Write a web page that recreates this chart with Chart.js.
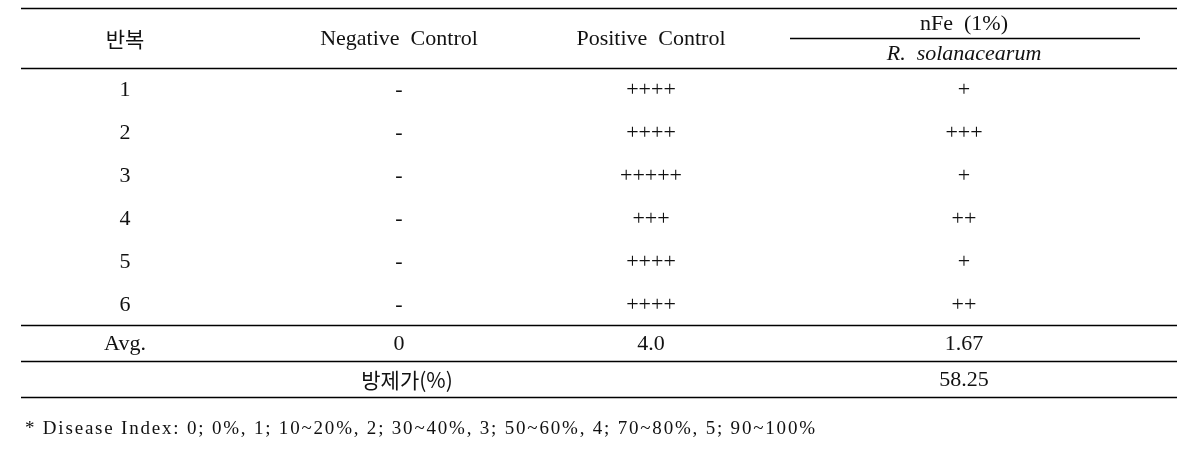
<!DOCTYPE html>
<html><head><meta charset="utf-8">
<script src="https://cdn.jsdelivr.net/npm/chart.js@4.4.1/dist/chart.umd.min.js"></script>
<style>html,body{margin:0;padding:0;background:#fff;}canvas{display:block;}</style>
</head><body>
<canvas id="c" width="1180" height="452"></canvas>
<script>
// ---- data ----
const headers = ['반복', 'Negative  Control', 'Positive  Control'];
const treatmentHeader = 'nFe  (1%)';
const pathogenHeader = 'R.  solanacearum';
const replicates = ['1', '2', '3', '4', '5', '6'];
const negativeControl = ['-', '-', '-', '-', '-', '-'];
const positiveControl = ['++++', '++++', '+++++', '+++', '++++', '++++'];
const nFeTreatment = ['+', '+++', '+', '++', '+', '++'];
const avgLabel = 'Avg.';
const avgValues = ['0', '4.0', '1.67'];
const efficacyLabel = '방제가(%)';
const efficacyValue = '58.25';
const footnote = '* Disease Index: 0; 0%, 1; 10~20%, 2; 30~40%, 3; 50~60%, 4; 70~80%, 5; 90~100%';

// ---- layout (table units) ----
const colCenters = [104, 378, 630, 943];
const mergedCenter = 386;
const subLine = [769, 1119];
const rowHeights = [30, 30, 43, 43, 43, 43, 43, 42, 36, 36];
const rowEdges = [0];
rowHeights.forEach(h => rowEdges.push(rowEdges[rowEdges.length - 1] + h));
const rowMid = i => (rowEdges[i] + rowEdges[i + 1]) / 2;
const headerMid = rowEdges[2] / 2;

const SERIF = '"Liberation Serif", "Times New Roman", serif';
const KR = '"Noto Sans CJK KR", sans-serif';
const F = (s, fam, it) => (it ? 'italic ' : '') + s + 'px ' + fam;

const cells = [];
function cell(x, y, text, font) { cells.push({x, y, text, font}); }
cell(colCenters[0], headerMid, headers[0], F(21, KR));
cell(colCenters[1], headerMid, headers[1], F(22, SERIF));
cell(colCenters[2], headerMid, headers[2], F(22, SERIF));
cell(colCenters[3], rowMid(0), treatmentHeader, F(22, SERIF));
cell(colCenters[3], rowMid(1), pathogenHeader, F(22, SERIF, true));
replicates.forEach((r, i) => {
  const y = rowMid(i + 2);
  cell(colCenters[0], y, r, F(22, SERIF));
  cell(colCenters[1], y, negativeControl[i], F(22, SERIF));
  cell(colCenters[2], y, positiveControl[i], F(22, SERIF));
  cell(colCenters[3], y, nFeTreatment[i], F(22, SERIF));
});
cell(colCenters[0], rowMid(8), avgLabel, F(22, SERIF));
avgValues.forEach((v, i) => cell(colCenters[i + 1], rowMid(8), v, F(22, SERIF)));
cell(mergedCenter, rowMid(9), efficacyLabel, F(21, KR));
cell(colCenters[3], rowMid(9), efficacyValue, F(22, SERIF));

const tablePlugin = {
  id: 'tablePlugin',
  afterDatasetsDraw(chart) {
    const ctx = chart.ctx, xs = chart.scales.x, ys = chart.scales.y;
    const ca = chart.chartArea;
    ctx.save();
    ctx.strokeStyle = '#000';
    ctx.lineWidth = 1.6;
    const hline = (y, x0, x1) => {
      const py = Math.round(ys.getPixelForValue(y)) + 0.5;
      ctx.beginPath();
      ctx.moveTo(xs.getPixelForValue(x0), py);
      ctx.lineTo(xs.getPixelForValue(x1), py);
      ctx.stroke();
    };
    [0, 2, 8, 9, 10].forEach(i => hline(rowEdges[i], xs.min, xs.max));
    hline(rowEdges[1], subLine[0], subLine[1]);
    // text
    ctx.fillStyle = '#111';
    ctx.textAlign = 'center';
    ctx.textBaseline = 'middle';
    const meta = chart.getDatasetMeta(0);
    meta.data.forEach((pt, i) => {
      const c = cells[i];
      ctx.font = c.font;
      ctx.fillText(c.text, pt.x, pt.y + 1);
    });
    // footnote
    ctx.textAlign = 'left';
    ctx.font = F(19, SERIF);
    const w = ctx.measureText(footnote).width;
    const target = 790;
    if ('letterSpacing' in ctx) ctx.letterSpacing = Math.max(0, (target - w) / (footnote.length - 1)).toFixed(2) + 'px';
    ctx.fillText(footnote, ca.left + 4, ca.bottom + 32);
    ctx.restore();
  }
};

new Chart(document.getElementById('c'), {
  type: 'scatter',
  data: {
    datasets: [{
      label: 'cells',
      data: cells.map(c => ({x: c.x, y: c.y})),
      pointRadius: 0,
      pointHoverRadius: 0
    }]
  },
  options: {
    responsive: false,
    animation: false,
    events: [],
    layout: { padding: { left: 21, right: 3, top: 8, bottom: 55 } },
    plugins: { legend: { display: false }, tooltip: { enabled: false } },
    scales: {
      x: { type: 'linear', display: false, min: 0, max: 1156 },
      y: { type: 'linear', display: false, min: 0, max: rowEdges[rowEdges.length - 1], reverse: true }
    }
  },
  plugins: [tablePlugin]
});
</script>
</body></html>
